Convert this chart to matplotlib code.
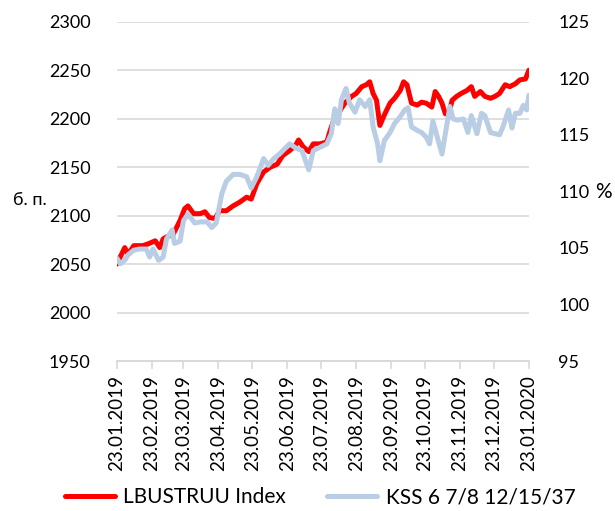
import numpy as np
import pandas as pd
import matplotlib
matplotlib.use("Agg")
import matplotlib.pyplot as plt
import matplotlib.dates as mdates

# Data (days since 23.01.2019)
start = pd.Timestamp("2019-01-23")

red_days = [0, 7, 10, 15, 23, 28, 34, 38, 41, 44, 50, 56, 60, 63, 68, 74, 78, 82, 87, 91,
            97, 103, 109, 115, 119, 124, 130, 136, 142, 147, 153, 158, 161, 165, 170, 174,
            180, 186, 189, 192, 198, 202, 208, 212, 217, 221, 224, 227, 230, 233, 237, 242,
            246, 251, 254, 257, 261, 266, 270, 274, 279, 282, 285, 288, 291, 294, 297, 301,
            305, 310, 314, 317, 322, 326, 331, 335, 339, 344, 348, 353, 357, 362, 365]
red_vals = [2050, 2067, 2060, 2069, 2069, 2071, 2074, 2067, 2076, 2078, 2081, 2095, 2107,
            2110, 2102, 2102, 2104, 2098, 2097, 2105, 2105, 2110, 2114, 2119, 2117, 2133,
            2145, 2150, 2153, 2162, 2167, 2172, 2178, 2171, 2166, 2174, 2174, 2176, 2188,
            2198, 2209, 2216, 2223, 2226, 2233, 2235, 2238, 2226, 2219, 2193, 2204, 2216,
            2221, 2229, 2238, 2235, 2216, 2214, 2217, 2216, 2212, 2228, 2223, 2216, 2205,
            2205, 2219, 2223, 2226, 2229, 2233, 2223, 2228, 2223, 2221, 2223, 2226, 2235,
            2233, 2236, 2240, 2241, 2250]

blue_days = [0, 3, 7, 10, 15, 20, 26, 29, 32, 37, 41, 44, 49, 51, 56, 59, 63, 69, 74, 80,
             84, 88, 93, 97, 103, 109, 115, 119, 124, 130, 134, 139, 144, 150, 153, 159,
             164, 170, 174, 180, 186, 190, 193, 196, 199, 203, 206, 211, 215, 220, 224, 227,
             231, 233, 237, 242, 246, 251, 255, 258, 261, 266, 270, 274, 277, 280, 283, 288,
             291, 295, 298, 302, 307, 311, 314, 319, 323, 326, 331, 335, 339, 342, 347, 350,
             353, 357, 360, 363, 365]
blue_vals = [104.1, 103.6, 103.9, 104.4, 104.8, 104.9, 104.9, 104.2, 104.9, 103.9, 104.2,
             105.8, 106.6, 105.4, 105.6, 107.4, 108.0, 107.2, 107.3, 107.3, 106.8, 107.2,
             109.8, 110.9, 111.5, 111.5, 111.3, 110.3, 111.3, 112.9, 112.3, 112.9, 113.3,
             113.9, 114.2, 113.8, 113.6, 111.9, 113.6, 113.9, 114.2, 115.1, 117.3, 116.0,
             118.1, 119.1, 117.8, 117.0, 118.1, 117.5, 118.1, 115.7, 114.2, 112.7, 114.5,
             115.2, 116.0, 116.6, 117.2, 117.4, 115.7, 115.4, 115.2, 114.8, 114.2, 116.2,
             115.1, 113.3, 115.1, 117.5, 116.4, 116.3, 116.4, 115.2, 116.7, 115.1, 116.9,
             116.7, 115.2, 115.1, 115.0, 115.7, 117.2, 115.6, 116.9, 116.9, 117.6, 117.2,
             118.5]

tick_dates = ["2019-01-23", "2019-02-23", "2019-03-23", "2019-04-23", "2019-05-23",
              "2019-06-23", "2019-07-23", "2019-08-23", "2019-09-23", "2019-10-23",
              "2019-11-23", "2019-12-23", "2020-01-23"]

red_x = start + pd.to_timedelta(red_days, unit="D")
blue_x = start + pd.to_timedelta(blue_days, unit="D")

plt.rcParams['font.family'] = ['Lato', 'DejaVu Sans']
fs = 13

fig = plt.figure(figsize=(6.15, 5.11), dpi=100)
ax = fig.add_axes([0.190, 0.2935, 0.670, 0.664])
ax2 = ax.twinx()

ax.plot(red_x, red_vals, color='#FF0000', lw=3.6, solid_capstyle='round', label='LBUSTRUU Index')
ax2.plot(blue_x, blue_vals, color='#B9CDE5', lw=3.6, solid_capstyle='round', label='KSS 6 7/8 12/15/37')

ax.set_ylim(1950, 2300)
ax.set_yticks(np.arange(1950, 2301, 50))
ax2.set_ylim(95, 125)
ax2.set_yticks(np.arange(95, 126, 5))
ax.set_xlim(pd.Timestamp(tick_dates[0]), pd.Timestamp(tick_dates[-1]))
ax.set_xticks(pd.to_datetime(tick_dates))
ax.xaxis.set_major_formatter(mdates.DateFormatter('%d.%m.%Y'))
for lbl in ax.get_xticklabels():
    lbl.set_rotation(90)

ax.grid(axis='y', color='#D9D9D9', lw=1.2)
ax.set_axisbelow(True)
for a in (ax, ax2):
    for s in ('top', 'left', 'right'):
        a.spines[s].set_visible(False)
    a.spines['bottom'].set_color('#D9D9D9')
    a.spines['bottom'].set_linewidth(1.2)
ax.tick_params(axis='y', length=0, labelsize=fs, pad=19)
ax2.tick_params(axis='y', length=0, labelsize=fs, pad=21)
ax.tick_params(axis='x', length=6, color='#D9D9D9', width=1.2, labelsize=fs + 0.5, pad=4)

fig.text(30 / 615, 1 - 200 / 511, 'б. п.', fontsize=fs, ha='center', va='center')
fig.text(603 / 615, 1 - 192 / 511, '%', fontsize=15, ha='center', va='center')

h1, l1 = ax.get_legend_handles_labels()
h2, l2 = ax2.get_legend_handles_labels()
fig.legend(h1 + h2, l1 + l2, loc='center', bbox_to_anchor=(320 / 615, 1 - 497 / 511), ncol=2,
           frameon=False, fontsize=15, handlelength=2.4, columnspacing=2.0, handletextpad=0.4,
           borderpad=0, borderaxespad=0)

fig.savefig('out.png', dpi=100)
